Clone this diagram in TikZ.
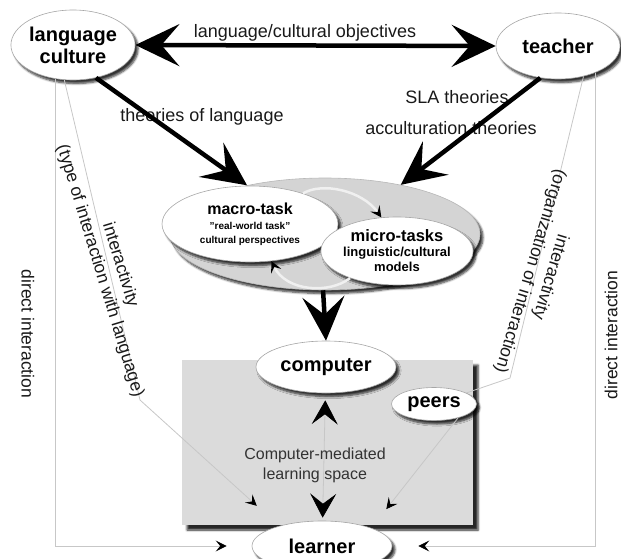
\documentclass[tikz,border=0pt]{standalone}
\usepackage{fontspec}
\setmainfont{Liberation Sans}
\usetikzlibrary{arrows.meta,shapes.geometric,shadows.blur}

\tikzset{
  bigtip/.tip={Stealth[length=44pt,width=42pt,inset=18pt]},
  medtip/.tip={Stealth[length=24pt,width=26pt,inset=10pt,color=black]},
  smtip/.tip={Stealth[length=11pt,width=11pt,inset=4.5pt,color=black]},
  softshadow/.style={blur shadow={shadow xshift=3pt, shadow yshift=-3.5pt,
      shadow blur steps=6, shadow opacity=80}},
  bubble/.style={ellipse, draw=black!35, line width=0.6pt, fill=white,
      inner sep=0pt, align=center, softshadow},
  bigfont/.style={font=\fontsize{20}{22}\selectfont\bfseries},
  lbl/.style={font=\fontsize{18}{21}\selectfont, text=black!90},
  sidelbl/.style={font=\fontsize{17.5}{21}\selectfont, text=black!90, align=center},
  bigarrow/.style={line width=4.5pt, -bigtip},
  thinline/.style={draw=black!22, line width=0.8pt},
  cycle/.style={draw=black!6, line width=2.5pt, -smtip},
}

\begin{document}
\begin{tikzpicture}[x=1pt,y=-1pt]
\useasboundingbox (0,0) rectangle (621,559);

% computer-mediated learning space
\node[fill=black!14, draw=none, minimum width=291pt, minimum height=165pt,
      inner sep=0pt,
      blur shadow={shadow xshift=5pt, shadow yshift=-5pt, shadow blur steps=4,
                   shadow opacity=85}]
  (space) at (327.5,442.5) {};
% task platter
\node[ellipse, fill=black!17, draw=black!28, line width=0.6pt,
      minimum width=310pt, minimum height=112pt, inner sep=0pt, softshadow]
  (platter) at (325,234) {};

% main ellipses
\node[bubble, bigfont, minimum width=124pt, minimum height=70pt]
  (lc) at (73,45) {language\\culture};
\node[bubble, bigfont, minimum width=124pt, minimum height=66pt]
  (teacher) at (558,46) {teacher};
\node[bubble, minimum width=176pt, minimum height=76pt,
      font=\fontsize{10}{14}\selectfont\bfseries]
  (macro) at (250,224)
  {{\fontsize{16}{18}\selectfont macro-task}\\[1pt]"real-world task"\\cultural perspectives};
\node[bubble, minimum width=152pt, minimum height=68pt,
      font=\fontsize{13}{15}\selectfont\bfseries]
  (micro) at (397,251)
  {{\fontsize{16.5}{17}\selectfont micro-tasks}\\linguistic/cultural\\models};
\node[bubble, bigfont, minimum width=140pt, minimum height=52pt]
  (computer) at (326,367) {computer};
\node[bubble, bigfont, minimum width=85pt, minimum height=33pt]
  (peers) at (434,404) {peers};
\node[bubble, bigfont, minimum width=140pt, minimum height=50pt]
  (learner) at (322,546) {learner};

% task cycle
\draw[cycle] (macro.30) .. controls (322,182) and (362,190) .. (micro.115);
\draw[cycle] (micro.-150) .. controls (330,294) and (286,292) .. (macro.-60);

% direct interaction lines
\draw[thinline, -smtip, shorten >=25pt] (lc.-118) |- (learner);
\draw[thinline, -smtip, shorten >=26pt] (teacher.-36) |- (learner);

% interactivity lines
\coordinate (bendL) at (140,400);
\coordinate (bendR) at (510,378);
\draw[thinline, -smtip, shorten >=30pt] (lc.-104) -- (bendL) -- (learner.155);
\draw[thinline] (teacher.-50) -- (bendR) -- (peers);
\draw[thinline, -smtip, shorten >=24pt] (peers.-30) -- (learner.20);

% computer <-> learner
\draw[thinline, medtip-medtip, shorten <=7pt, shorten >=3pt] (computer) -- (learner);

% labels
\node[lbl] (objlbl) at (305,33) {language/cultural objectives};
\node[lbl] (theolbl) at (202,117) {theories of language};
\node[lbl] (slalbl) at (457,97) {SLA theories};
\node[lbl] (acclbl) at (451,128) {acculturation theories};
\node[lbl, font=\fontsize{17.5}{21}\selectfont, rotate=-90] (dirL) at (28,334) {direct interaction};
\node[lbl, font=\fontsize{17.5}{21}\selectfont, rotate=90] (dirR) at (611,335) {direct interaction};
\node[sidelbl, rotate=-73] (intL) at (110,268)
  {interactivity\\(type of interaction with language)};
\node[sidelbl, rotate=-106.7] (intR) at (540,274)
  {interactivity\\(organization of interaction)};
\node[font=\fontsize{16}{20}\selectfont, text=black!80, align=center]
  (cmls) at (315,465) {Computer-mediated\\learning space};

% heavy arrows
\draw[line width=4.5pt, bigtip-bigtip] (lc.east) -- (teacher.west);
\draw[bigarrow] (lc.-55) -- (platter.148);
\draw[bigarrow] (teacher.-119) -- (platter.33);
\draw[bigarrow] (platter.-92) -- (computer.north);
\end{tikzpicture}
\end{document}
